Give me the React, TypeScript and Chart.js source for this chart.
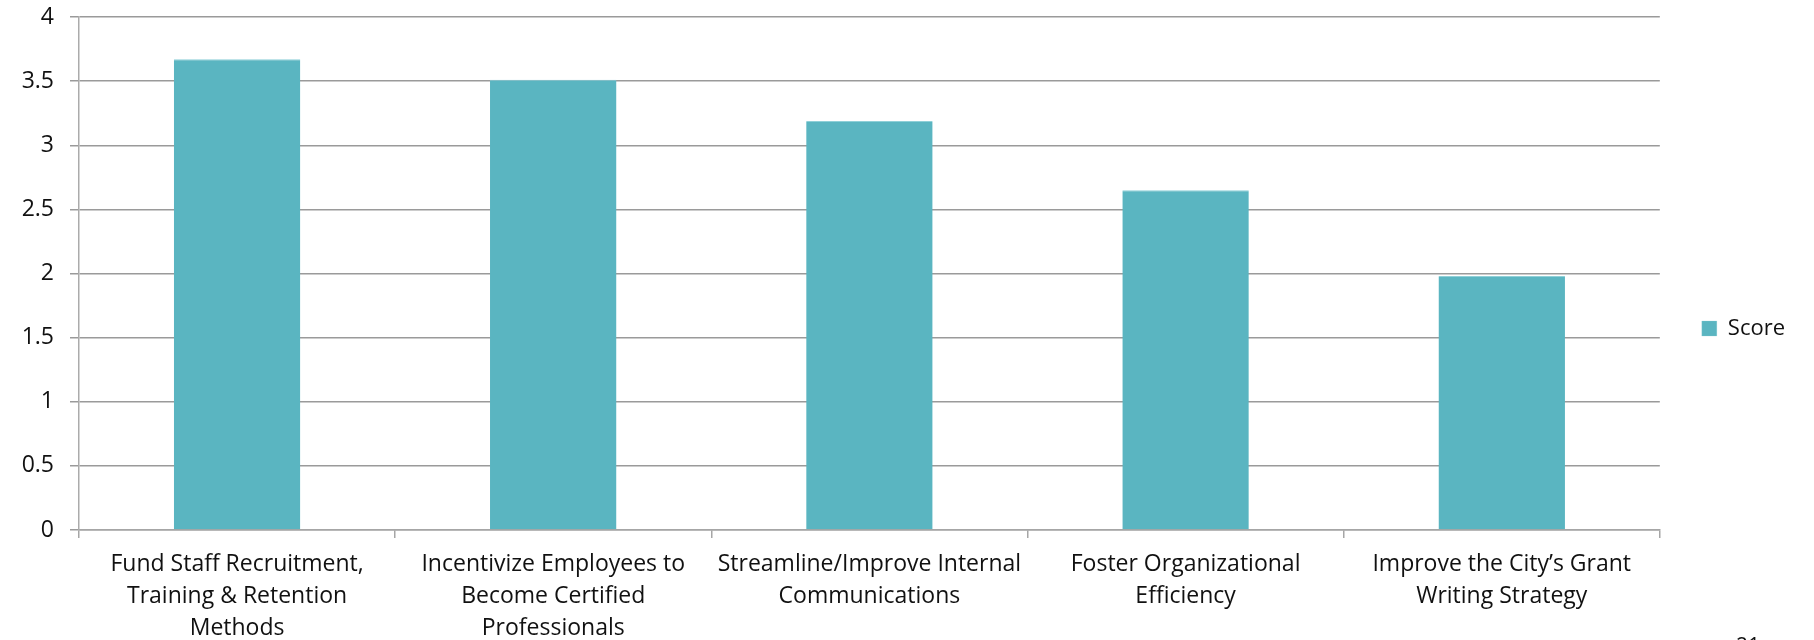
import { useEffect, useRef } from 'react'
import { Chart, registerables } from 'chart.js'

Chart.register(...registerables)

const categories: string[][] = [
  ['Fund Staff Recruitment,', 'Training & Retention', 'Methods'],
  ['Incentivize Employees to', 'Become Certified', 'Professionals'],
  ['Streamline/Improve Internal', 'Communications'],
  ['Foster Organizational', 'Efficiency'],
  ['Improve the City\u2019s Grant', 'Writing Strategy'],
]
const scores = [3.67, 3.51, 3.19, 2.65, 1.98]
const seriesName = 'Score'
const yMin = 0
const yMax = 4
const yStep = 0.5

const FONT = '"Open Sans", Lato, sans-serif'
const TEAL = '#5ab5c1'

export default function App() {
  const canvasRef = useRef<HTMLCanvasElement>(null)
  const chartRef = useRef<Chart | null>(null)

  useEffect(() => {
    document.body.style.margin = '0'
    if (!canvasRef.current) return
    chartRef.current?.destroy()

    chartRef.current = new Chart(canvasRef.current, {
      type: 'bar',
      data: {
        labels: categories,
        datasets: [
          {
            label: seriesName,
            data: scores,
            backgroundColor: TEAL,
            borderColor: '#8fd0d8',
            borderWidth: { top: 1, left: 0, right: 0, bottom: 0 },
            barPercentage: 0.4,
            categoryPercentage: 1,
          },
        ],
      },
      options: {
        responsive: false,
        animation: false,
        layout: { padding: { top: 17, right: 19, bottom: 0, left: 0 } },
        plugins: {
          tooltip: { enabled: false },
          legend: {
            position: 'right',
            maxWidth: 153,
            labels: {
              color: '#111',
              font: { family: FONT, size: 22 },
              boxWidth: 15,
              boxHeight: 15,
              padding: 42,
            },
          },
        },
        scales: {
          x: {
            offset: true,
            grid: {
              offset: true,
              drawOnChartArea: false,
              drawTicks: true,
              tickLength: 8,
              color: '#a6a6a6',
              lineWidth: 1.5,
            },
            border: { color: '#a6a6a6', width: 1.5 },
            ticks: {
              color: '#111',
              font: { family: FONT, size: 23, lineHeight: 1.4 },
              maxRotation: 0,
              autoSkip: false,
              padding: 10,
            },
            afterFit: (s: any) => { s.height = 110 },
          },
          y: {
            min: yMin,
            max: yMax,
            grid: {
              color: '#9a9a9a',
              lineWidth: 1.5,
              tickLength: 9,
            },
            border: { color: '#ababab', width: 1.5 },
            ticks: {
              stepSize: yStep,
              color: '#111',
              font: { family: FONT, size: 23 },
              padding: 16,
              callback: (v: any) => `${v}`,
            },
            afterFit: (s: any) => {
              s.width = 79
              s.paddingTop = 0
              s.paddingBottom = 0
            },
          },
        },
      },
    })

    return () => chartRef.current?.destroy()
  }, [])

  return (
    <div style={{ position: 'relative', width: 1814, height: 640, overflow: 'hidden', background: '#fff' }}>
      <canvas ref={canvasRef} width={1814} height={640} />
      <div style={{ position: 'absolute', left: 1736, top: 631, fontFamily: FONT, fontSize: 21, color: '#111' }}>21</div>
    </div>
  )
}
